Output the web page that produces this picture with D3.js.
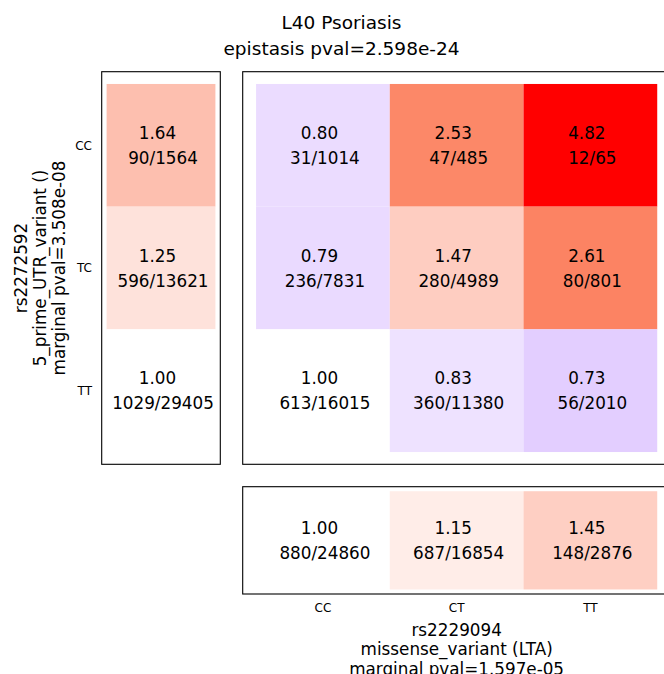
<!DOCTYPE html>
<html>
<head>
<meta charset="utf-8">
<script src="https://cdn.jsdelivr.net/npm/d3@7"></script>
<style>
  body { margin: 0; background: #fff; }
  text { font-family: "DejaVu Sans", sans-serif; fill: #000; }
</style>
</head>
<body>
<div id="chart"></div>
<script>
// genotype categories
const xCats = ['CC', 'CT', 'TT'];   // rs2229094
const yCats = ['CC', 'TC', 'TT'];   // rs2272592

// joint odds ratios, rows = rs2272592, cols = rs2229094
const jointOR = [
  [0.80, 2.53, 4.82],
  [0.79, 1.47, 2.61],
  [1.00, 0.83, 0.73]
];
const jointCounts = [
  ['31/1014', '47/485', '12/65'],
  ['236/7831', '280/4989', '80/801'],
  ['613/16015', '360/11380', '56/2010']
];

// marginals
const rowOR = [1.64, 1.25, 1.00];
const rowCounts = ['90/1564', '596/13621', '1029/29405'];
const colOR = [1.00, 1.15, 1.45];
const colCounts = ['880/24860', '687/16854', '148/2876'];

const titleLines = ['L40 Psoriasis', 'epistasis pval=2.598e-24'];
const xLabelLines = ['rs2229094', 'missense_variant (LTA)', 'marginal pval=1.597e-05'];
const yLabelLines = ['rs2272592', '5_prime_UTR_variant ()', 'marginal pval=3.508e-08'];

const W = 664, H = 674;
const svg = d3.select('#chart').append('svg')
    .attr('width', W)
    .attr('height', H);

const maxOR = d3.max(jointOR.flat());
const redScale = d3.scaleLog().domain([1, 2.6, maxOR]).range(['#ffffff', '#fc8464', '#ff0000']);
const purpleScale = d3.scaleLog().domain([1 / maxOR, 1]).range(['#7208fe', '#ffffff']);
const color = v => v >= 1 ? redScale(v) : purpleScale(v);

// panel scales (data units -> px)
const xMain = d3.scaleLinear().domain([-0.6, 2.6]).range([242.7, 670.6]);
const yMain = d3.scaleLinear().domain([-0.6, 2.6]).range([71.7, 464.3]);
const xLeft = d3.scaleLinear().domain([-0.545, 0.545]).range([101.7, 220.3]);
const yBot = d3.scaleLinear().domain([-0.546, 0.546]).range([486.7, 594]);

const FS = 16.8;

function drawCell(g, x0, x1, y0, y1, v, cnt) {
  g.append('rect')
    .attr('x', x0).attr('y', y0)
    .attr('width', x1 - x0).attr('height', y1 - y0)
    .attr('fill', color(v));
  const cx = (x0 + x1) / 2, cy = (y0 + y1) / 2;
  g.append('text')
    .attr('x', cx - 3.5).attr('y', cy - 6.3)
    .attr('text-anchor', 'middle')
    .style('font-size', FS + 'px')
    .text(v.toFixed(2));
  g.append('text')
    .attr('x', cx + 2).attr('y', cy + 18.7)
    .attr('text-anchor', 'middle')
    .style('font-size', FS + 'px')
    .text(cnt);
}

// main grid
const gMain = svg.append('g');
jointOR.forEach((row, r) => {
  row.forEach((v, c) => {
    drawCell(gMain, xMain(c - 0.5), xMain(c + 0.5), yMain(r - 0.5), yMain(r + 0.5), v, jointCounts[r][c]);
  });
});

// left marginal
const gLeft = svg.append('g');
rowOR.forEach((v, r) => {
  drawCell(gLeft, xLeft(-0.5), xLeft(0.5), yMain(r - 0.5), yMain(r + 0.5), v, rowCounts[r]);
});

// bottom marginal
const gBot = svg.append('g');
colOR.forEach((v, c) => {
  drawCell(gBot, xMain(c - 0.5), xMain(c + 0.5), yBot(-0.5), yBot(0.5), v, colCounts[c]);
});

// frames
const frames = [
  [xMain.range(), yMain.range()],
  [xLeft.range(), yMain.range()],
  [xMain.range(), yBot.range()]
];
frames.forEach(([xr, yr]) => {
  svg.append('rect')
    .attr('x', xr[0]).attr('y', yr[0])
    .attr('width', xr[1] - xr[0]).attr('height', yr[1] - yr[0])
    .attr('fill', 'none')
    .attr('stroke', '#000')
    .attr('stroke-width', 1.1);
});

// tick labels
svg.append('g').selectAll('text')
  .data(xCats)
  .join('text')
    .attr('x', (d, i) => xMain(i))
    .attr('y', 611.7)
    .attr('text-anchor', 'middle')
    .style('font-size', '12px')
    .text(d => d);

svg.append('g').selectAll('text')
  .data(yCats)
  .join('text')
    .attr('x', 92)
    .attr('y', (d, i) => yMain(i) + 4.4)
    .attr('text-anchor', 'end')
    .style('font-size', '12px')
    .text(d => d);

// title
svg.append('g').selectAll('text')
  .data(titleLines)
  .join('text')
    .attr('x', 341.5)
    .attr('y', (d, i) => 29.3 + i * 25.7)
    .attr('text-anchor', 'middle')
    .style('font-size', '18.5px')
    .text(d => d);

// x label
const xMid = (xMain.range()[0] + xMain.range()[1]) / 2;
svg.append('g').selectAll('text')
  .data(xLabelLines)
  .join('text')
    .attr('x', xMid)
    .attr('y', (d, i) => 635.5 + i * 19.5)
    .attr('text-anchor', 'middle')
    .style('font-size', FS + 'px')
    .text(d => d);

// y label (rotated)
const yMid = (yMain.range()[0] + yMain.range()[1]) / 2;
svg.append('g').selectAll('text')
  .data(yLabelLines)
  .join('text')
    .attr('transform', (d, i) => `translate(${27 + i * 19},${yMid}) rotate(-90)`)
    .attr('text-anchor', 'middle')
    .style('font-size', FS + 'px')
    .text(d => d);
</script>
</body>
</html>
